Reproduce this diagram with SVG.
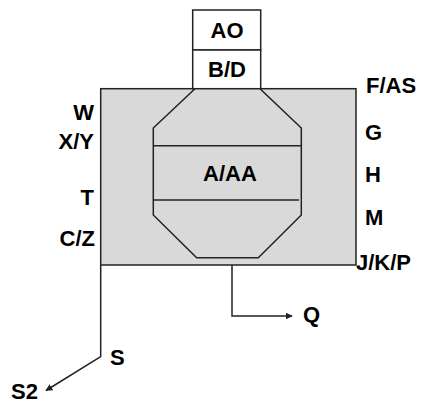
<svg xmlns="http://www.w3.org/2000/svg" width="423" height="404" viewBox="0 0 423 404">
<style>
.ln{fill:none;stroke:#222;stroke-width:1.5}
.bx{fill:#fff;stroke:#222;stroke-width:1.5}
.gr{fill:#d9d9d9;stroke:#222;stroke-width:1.5}
text{font-family:"Liberation Sans",Arial,sans-serif;font-weight:bold;font-size:22px;fill:#000}
.m{text-anchor:middle}
.e{text-anchor:end}
</style>
<defs>
<marker id="ah" viewBox="0 0 10 10" refX="9" refY="5" markerWidth="7" markerHeight="7" markerUnits="userSpaceOnUse" orient="auto">
<path d="M0,0 L10,5 L0,10 z" fill="#222"/>
</marker>
</defs>
<g id="main">
<rect class="gr" x="100.7" y="88.7" width="255.3" height="176.3"/>
</g>
<g id="AO">
<rect class="bx" x="192.7" y="10" width="68" height="40"/>
<text class="m" x="227" y="38">AO</text>
</g>
<g id="BD">
<rect class="bx" x="192.7" y="50" width="68" height="38.7"/>
<text class="m" x="227" y="77">B/D</text>
</g>
<g id="AAA">
<path class="gr" d="M195,88.7 L260,88.7 L301.3,128 L301.3,215 L258.3,257.7 L196.7,257.7 L153.3,215 L153.3,128 Z"/>
<line class="ln" x1="153.3" y1="145.7" x2="301.3" y2="145.7"/>
<line class="ln" x1="153.3" y1="200" x2="299" y2="200"/>
<text class="m" x="230" y="181">A/AA</text>
</g>
<g id="connectors">
<path class="ln" d="M232,265 L232,316 L292,316" marker-end="url(#ah)"/>
<path class="ln" d="M100.7,265 L100.7,356.7 L46,390.5" marker-end="url(#ah)"/>
</g>
<g id="labels">
<text class="e" x="94" y="120">W</text>
<text class="e" x="94" y="149">X/Y</text>
<text class="e" x="94" y="205">T</text>
<text class="e" x="95" y="246">C/Z</text>
<text x="366" y="93">F/AS</text>
<text x="365" y="140">G</text>
<text x="365" y="182">H</text>
<text x="365" y="225">M</text>
<text x="356" y="270">J/K/P</text>
<text x="303" y="322">Q</text>
<text x="110" y="365">S</text>
<text x="11" y="399">S2</text>
</g>
</svg>
